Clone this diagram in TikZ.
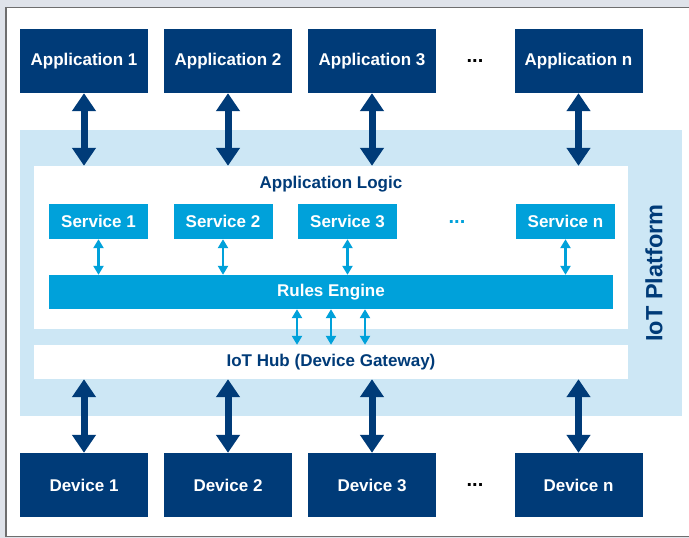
\documentclass[tikz,border=0pt]{standalone}
\usepackage{fontspec}
\setmainfont{Liberation Sans}
\usetikzlibrary{arrows.meta}
\definecolor{navy}{HTML}{003B78}
\definecolor{svc}{HTML}{00A1DA}
\definecolor{plat}{HTML}{CDE7F5}
\definecolor{bggray}{HTML}{DFE3EA}
\definecolor{framegray}{HTML}{6E6E6E}
\tikzset{
  darkbox/.style={fill=navy, text=white, inner sep=0pt, minimum width=128pt, minimum height=64pt, font=\fontsize{17}{20}\selectfont\bfseries},
  svcbox/.style={fill=svc, text=white, inner sep=0pt, minimum width=99pt, minimum height=35pt, font=\fontsize{17}{20}\selectfont\bfseries},
  whitebox/.style={fill=white, inner sep=0pt},
  lbl/.style={text=navy, font=\fontsize{17}{20}\selectfont\bfseries, inner sep=0pt},
  bigarrow/.style={draw=navy, line width=7pt, {Triangle[width=23pt,length=18pt]}-{Triangle[width=23pt,length=18pt]}},
  smallarrow/.style={draw=svc, line width=2.4pt, {Triangle[width=10pt,length=9pt]}-{Triangle[width=10pt,length=9pt]}},
  dots/.style={font=\fontsize{20}{24}\selectfont\bfseries, inner sep=0pt}
}
\begin{document}
\begin{tikzpicture}[x=1pt,y=-1pt]
\useasboundingbox (0,0) rectangle (689,538);
% background and frame
\fill[bggray] (0,0) rectangle (689,538);
\fill[white] (6,7.5) rectangle (689,536.5);
\draw[framegray, line width=1.3pt] (689,7.5) -- (6,7.5) -- (6,536.5) -- (689,536.5);
% platform
\fill[plat] (20,130) rectangle (682,416);
\node[whitebox, minimum width=594pt, minimum height=163pt] (logic) at (331,247.5) {};
\node[whitebox, minimum width=594pt, minimum height=34pt] (hub) at (331,362) {};
\node[lbl] (hubtxt) at (331,362) {IoT Hub (Device Gateway)};
\node[lbl] (logictxt) at (331,184) {Application Logic};
\node[lbl, rotate=90, font=\fontsize{23.5}{26}\selectfont\bfseries] (plattxt) at (654,273) {IoT Platform};
% applications
\node[darkbox] (a1) at (84,61) {Application 1};
\node[darkbox] (a2) at (228,61) {Application 2};
\node[darkbox] (a3) at (372,61) {Application 3};
\node[dots] (adots) at (475,61) {...};
\node[darkbox] (an) at (578.5,61) {Application n};
% devices
\node[darkbox] (d1) at (84,485) {Device 1};
\node[darkbox] (d2) at (228,485) {Device 2};
\node[darkbox] (d3) at (372,485) {Device 3};
\node[dots] (ddots) at (475,485) {...};
\node[darkbox] (dn) at (578.5,485) {Device n};
% services
\node[svcbox] (s1) at (98.5,221.5) {Service 1};
\node[svcbox] (s2) at (223,221.5) {Service 2};
\node[svcbox] (s3) at (347.5,221.5) {Service 3};
\node[dots, text=svc] (sdots) at (457,222) {...};
\node[svcbox] (sn) at (565.5,221.5) {Service n};
% rules engine
\node[svcbox, minimum width=564pt, minimum height=34pt] (rules) at (331,292) {Rules Engine};
% big arrows top
\foreach \n in {a1,a2,a3,an}
  \draw[bigarrow] (\n.south) -- (\n.south |- logic.north);
% big arrows bottom
\foreach \n in {d1,d2,d3,dn}
  \draw[bigarrow] (hub.south -| \n.north) -- (\n.north);
% service arrows
\foreach \n in {s1,s2,s3,sn}
  \draw[smallarrow] (\n.south) -- (\n.south |- rules.north);
% rules to hub arrows
\foreach \dx in {-34,0,34}
  \draw[smallarrow] ([xshift=\dx pt]rules.south) -- ([xshift=\dx pt]rules.south |- hub.north);
\end{tikzpicture}
\end{document}
